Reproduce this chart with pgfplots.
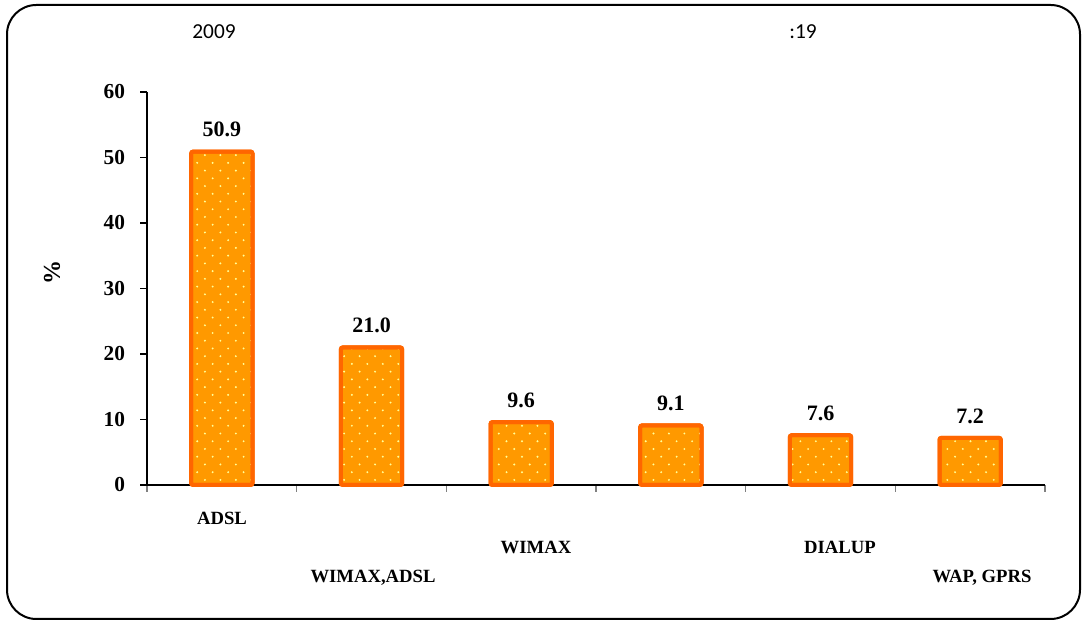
\documentclass[border=0pt]{standalone}
\usepackage{fontspec}
\setmainfont{Liberation Serif}
\newfontfamily\calfont{Carlito}
\usepackage{pgfplots}
\pgfplotsset{compat=1.18}
\usetikzlibrary{patterns}
\definecolor{barfill}{HTML}{FF9900}
\definecolor{bardraw}{HTML}{FF6600}
\definecolor{dotcol}{HTML}{FFFF99}
\pgfdeclarepatternformonly{mydots}{\pgfpoint{-1pt}{-1pt}}{\pgfpoint{12.6pt}{12.6pt}}{\pgfpoint{11.6pt}{11.6pt}}{%
  \pgfpathcircle{\pgfpoint{2.9pt}{2.9pt}}{0.8pt}%
  \pgfpathcircle{\pgfpoint{8.7pt}{8.7pt}}{0.8pt}%
  \pgfusepath{fill}}
\begin{document}
\begin{tikzpicture}
\useasboundingbox (0,0) rectangle (812.25pt,467.25pt);
\draw[line width=1.5pt, rounded corners=22pt] (5.25pt,3pt) rectangle (810pt,463.5pt);
\begin{axis}[
  at={(110.25pt,103.5pt)}, anchor=south west,
  scale only axis, width=673.5pt, height=294.75pt,
  xmin=-0.5, xmax=5.5, ymin=0, ymax=60,
  axis lines*=left,
  axis line style={line width=0.8pt},
  xtick={-0.5,0.5,...,5.5}, xticklabels={},
  x tick style={gray, line width=0.8pt},
  ytick={0,10,...,60},
  y tick style={black, line width=0.8pt},
  tick align=outside, major tick length=5pt,
  /pgf/number format/assume math mode=true,
  yticklabel style={font=\fontsize{16}{18}\selectfont\bfseries, xshift=-8pt},
  ybar, bar width=46pt,
  nodes near coords,
  nodes near coords style={font=\fontsize{16.5}{18}\selectfont\bfseries, yshift=6pt,
    /pgf/number format/fixed, /pgf/number format/fixed zerofill,
    /pgf/number format/precision=1, /pgf/number format/assume math mode=true},
  clip=false,
]
\addplot[fill=barfill, draw=bardraw, line width=3pt, rounded corners=1.5pt,
  postaction={pattern=mydots, pattern color=dotcol}]
  coordinates {(0,50.9) (1,21.0) (2,9.6) (3,9.1) (4,7.6) (5,7.2)};
\end{axis}
\node[font=\fontsize{14}{16}\selectfont\bfseries] at (166.5pt,78.75pt) {ADSL};
\node[font=\fontsize{14}{16}\selectfont\bfseries] at (279.75pt,33.75pt) {WIMAX,ADSL};
\node[font=\fontsize{14}{16}\selectfont\bfseries] at (402pt,57pt) {WIMAX};
\node[font=\fontsize{14}{16}\selectfont\bfseries] at (630pt,57pt) {DIALUP};
\node[font=\fontsize{14}{16}\selectfont\bfseries] at (736.5pt,33.75pt) {WAP, GPRS};
\node[font=\calfont\fontsize{16}{18}\selectfont] at (160.5pt,443.25pt) {2009};
\node[font=\calfont\fontsize{16}{18}\selectfont] at (602.25pt,443.25pt) {:19};
\node[font=\fontsize{18}{20}\selectfont\bfseries, rotate=90] at (39pt,262.5pt) {\%};
\end{tikzpicture}
\end{document}
